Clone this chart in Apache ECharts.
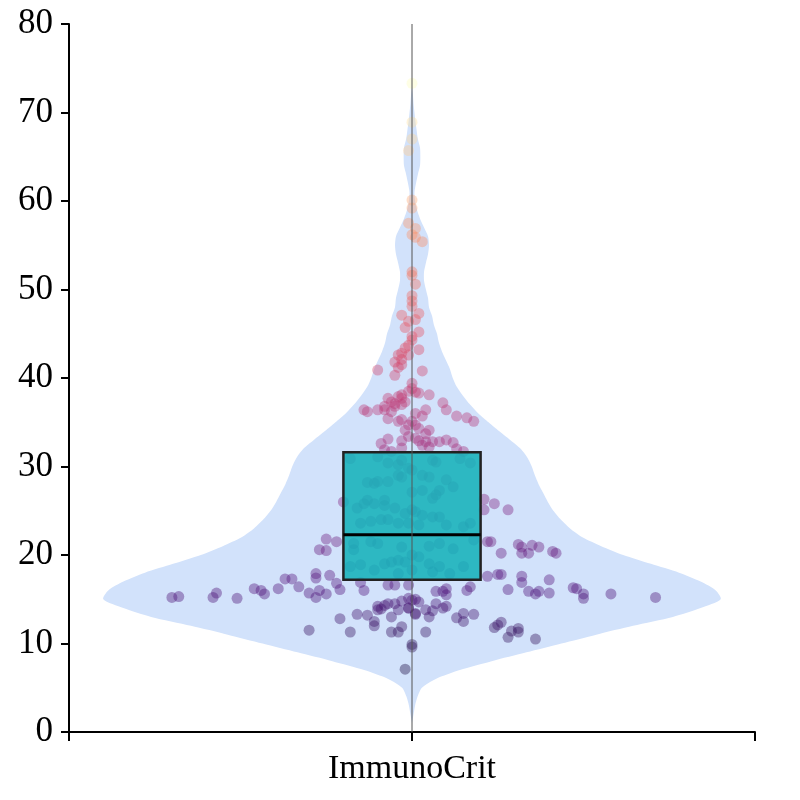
<!DOCTYPE html>
<html>
<head>
    <meta charset="utf-8">
    <script src="https://cdn.jsdelivr.net/npm/echarts@6/dist/echarts.min.js"></script>
    <style>
        html, body { margin: 0; padding: 0; background: #fff; }
        #chart { width: 800px; height: 800px; }
    </style>
</head>
<body>
    <div id="chart"></div>
    <script type="text/javascript">
        // category shown under the axis
        var categoryName = 'ImmunoCrit';

        // y axis ticks
        var yMin = 0, yMax = 80, yStep = 10;

        // box: quartiles
        var boxQ1 = 17.2;
        var boxMedian = 22.3;
        var boxQ3 = 31.6;

        // violin outline: value -> relative density (1 = widest)
        var violinValues = [1, 2, 3, 4, 5, 6, 7, 8, 9, 10, 11, 12, 13, 14, 15, 16, 17, 18, 19, 20,
            21, 22, 23, 24, 25, 26, 27, 28, 29, 30, 31, 32, 33, 34, 35, 36, 37, 38, 39, 40,
            41, 42, 43, 44, 45, 46, 47, 48, 49, 50, 51, 52, 53, 54, 55, 56, 57, 58, 59, 60,
            61, 62, 63, 64, 65, 66, 67, 68, 69, 70, 71, 72, 73];
        var violinDensity = [0, 0.005, 0.01, 0.018, 0.032, 0.077, 0.155, 0.258, 0.371, 0.484,
            0.597, 0.716, 0.845, 0.935, 1.0, 0.984, 0.935, 0.865, 0.774, 0.684,
            0.613, 0.552, 0.512, 0.482, 0.458, 0.44, 0.425, 0.41, 0.398, 0.388,
            0.374, 0.352, 0.318, 0.282, 0.248, 0.215, 0.188, 0.165, 0.145, 0.132,
            0.123, 0.11, 0.097, 0.087, 0.081, 0.071, 0.065, 0.055, 0.052, 0.045,
            0.039, 0.039, 0.045, 0.052, 0.055, 0.052, 0.039, 0.026, 0.016, 0.01,
            0.008, 0.013, 0.019, 0.026, 0.027, 0.026, 0.019, 0.015, 0.011, 0.008,
            0.005, 0.003, 0];

        // jittered points: horizontal jitter (share of half band) and value
        var pointJitter = [0.00, 0.00, 0.00, -0.01, 0.00, 0.00, -0.01, 0.01, 0.00, 0.01,
            0.03, 0.00, 0.00, 0.01, 0.00, 0.00, 0.00, -0.03, 0.02, -0.01,
            0.01, -0.02, 0.02, 0.00, 0.00, -0.01, -0.02, 0.02, -0.03, -0.01,
            -0.04, -0.03, -0.05, -0.03, -0.10, -0.04, 0.03, -0.05, 0.00, 0.00,
            -0.01, 0.01, 0.02, 0.05, -0.03, -0.07, -0.04, -0.03, -0.06, -0.05,
            -0.02, -0.08, -0.05, -0.03, -0.14, -0.13, -0.10, -0.08, -0.06, 0.04,
            0.09, 0.10, 0.13, 0.16, 0.18, 0.03, 0.01, -0.07, -0.04, -0.03,
            0.00, 0.01, -0.01, 0.02, 0.05, 0.04, -0.02, -0.07, -0.09, -0.03,
            -0.01, 0.01, 0.02, 0.04, 0.06, 0.08, 0.10, 0.12, 0.05, -0.03,
            0.03, 0.13, 0.15, -0.08, -0.06, -0.18, -0.10, -0.07, -0.04, -0.03,
            -0.01, 0.00, 0.06, 0.07, 0.14, 0.17, -0.04, -0.03, -0.07, -0.10,
            -0.11, -0.13, 0.03, 0.05, 0.10, 0.12, 0.03, 0.08, 0.00, 0.07,
            0.06, -0.13, -0.14, -0.11, -0.08, -0.08, -0.05, -0.16, 0.00, 0.01,
            -0.02, 0.03, 0.06, 0.08, -0.07, -0.09, -0.12, -0.15, -0.04, -0.01,
            0.02, 0.10, 0.15, 0.17, -0.17, -0.12, -0.10, -0.03, 0.05, 0.08,
            0.12, 0.18, -0.17, 0.00, 0.02, -0.04, -0.06, -0.08, -0.02, 0.05,
            0.08, -0.15, -0.18, 0.15, -0.11, 0.00, 0.06, -0.04, 0.11, 0.21,
            0.24, 0.28, 0.21, -0.20, -0.25, -0.22, -0.27, -0.25, 0.22, 0.23,
            0.31, 0.26, 0.32, 0.35, 0.32, 0.34, 0.37, 0.41, 0.42, 0.22,
            0.25, 0.26, 0.32, 0.32, 0.40, 0.28, 0.34, 0.36, 0.37, 0.40,
            0.47, 0.48, 0.50, 0.50, 0.58, 0.71, 0.07, 0.09, 0.10, 0.10,
            0.17, 0.16, 0.00, 0.02, -0.01, 0.01, 0.04, 0.06, 0.07, 0.05,
            0.09, 0.10, 0.13, 0.15, 0.15, 0.18, 0.04, 0.24, 0.25, 0.26,
            0.29, 0.28, 0.31, 0.31, 0.36, 0.00, 0.00, -0.02, -0.70, -0.68,
            -0.58, -0.57, -0.51, -0.46, -0.44, -0.43, -0.39, -0.37, -0.35, -0.33,
            -0.30, -0.27, -0.28, -0.25, -0.28, -0.28, -0.24, -0.22, -0.21, -0.14,
            -0.15, -0.07, -0.05, -0.01, -0.03, -0.05, -0.07, -0.08, -0.10, -0.10,
            -0.09, -0.04, -0.01, 0.01, -0.13, -0.16, -0.21, -0.11, -0.11, -0.06,
            -0.03, -0.04, -0.06, -0.30, -0.18, 0.01, -0.01];
        var pointValues = [73.3, 68.9, 67.0, 65.7, 60.1, 59.2, 57.5, 56.9, 56.2, 55.9,
            55.4, 52.0, 51.6, 50.6, 49.3, 48.7, 48.1, 47.1, 47.3, 46.4,
            46.6, 45.7, 45.2, 44.7, 44.3, 43.7, 43.4, 43.2, 42.8, 42.6,
            42.6, 42.1, 41.8, 41.5, 40.9, 41.2, 40.8, 40.3, 39.4, 38.8,
            38.5, 38.4, 38.3, 38.1, 38.1, 37.7, 37.9, 37.7, 37.3, 37.1,
            37.3, 36.8, 36.8, 37.0, 36.4, 36.2, 36.4, 36.4, 36.2, 36.4,
            37.2, 36.4, 35.7, 35.5, 35.1, 35.7, 36.0, 35.4, 35.1, 35.3,
            35.1, 34.7, 34.7, 34.3, 34.1, 33.7, 34.1, 33.1, 32.6, 32.9,
            33.4, 33.2, 32.9, 32.8, 32.8, 32.8, 33.0, 32.7, 32.2, 32.1,
            32.4, 32.0, 31.7, 31.9, 31.7, 30.9, 31.1, 30.4, 30.2, 30.7,
            29.8, 29.6, 30.7, 30.5, 30.9, 30.4, 29.0, 28.8, 28.3, 28.3,
            28.1, 28.2, 29.0, 28.8, 28.5, 27.7, 27.3, 27.3, 27.1, 26.8,
            26.4, 26.2, 25.8, 25.8, 26.2, 25.6, 25.3, 25.3, 25.1, 24.9,
            24.7, 24.5, 24.3, 24.3, 24.0, 24.0, 23.8, 23.6, 23.6, 23.6,
            23.4, 23.4, 23.2, 23.6, 21.3, 21.5, 21.3, 20.9, 21.0, 21.3,
            20.7, 21.7, 20.6, 20.0, 19.8, 19.4, 19.2, 19.0, 19.2, 19.0,
            18.7, 18.9, 18.7, 18.7, 18.3, 18.3, 18.1, 17.9, 17.9, 26.3,
            25.8, 25.1, 25.1, 26.0, 21.8, 21.5, 20.6, 20.5, 21.5, 21.5,
            21.2, 20.2, 20.9, 21.1, 20.2, 20.2, 20.9, 20.4, 20.2, 17.6,
            17.8, 17.8, 17.6, 16.9, 17.2, 16.1, 15.9, 15.6, 15.9, 15.7,
            16.3, 16.2, 15.6, 15.1, 15.6, 15.2, 15.9, 15.9, 15.5, 16.2,
            16.4, 16.0, 14.9, 14.7, 14.0, 13.4, 13.8, 13.7, 14.5, 13.0,
            14.0, 14.2, 12.9, 13.4, 12.5, 13.3, 11.3, 11.8, 12.1, 12.4,
            11.4, 10.7, 11.7, 11.3, 10.5, 9.9, 9.6, 7.1, 15.2, 15.3,
            15.2, 15.7, 15.1, 16.2, 16.0, 15.6, 16.2, 17.3, 17.3, 16.4,
            15.7, 16.0, 15.2, 15.6, 17.4, 17.9, 17.7, 16.8, 16.1, 16.0,
            16.9, 16.6, 16.6, 16.6, 14.8, 14.5, 14.5, 14.3, 14.2, 13.8,
            13.9, 13.8, 14.0, 13.3, 13.2, 13.3, 12.8, 12.5, 12.0, 13.0,
            11.9, 11.3, 11.3, 11.5, 11.3, 15.0, 15.1];

        // magma-like colour ramp for the points
        var pointColors = ['#000004', '#1c1044', '#4f127b', '#812581', '#b5367a',
            '#e55064', '#fb8761', '#fec287', '#fcfdbf'];

        var VIOLIN_HALF = 0.9;   // widest half width, in band units
        var BOX_HALF = 0.2;
        var FONT = '"Liberation Serif", "DejaVu Serif", serif';

        var scatterData = [];
        for (var i = 0; i < pointValues.length; i++) {
            scatterData.push([pointJitter[i], pointValues[i]]);
        }

        function renderViolin(params, api) {
            var right = [], left = [];
            for (var k = 0; k < violinValues.length; k++) {
                var w = violinDensity[k] * VIOLIN_HALF;
                right.push(api.coord([w, violinValues[k]]));
                left.push(api.coord([-w, violinValues[k]]));
            }
            var pts = right.concat(left.reverse());
            return {
                type: 'polygon',
                shape: { points: pts, smooth: 0.25 },
                style: { fill: '#d2e2fb' },
                silent: true
            };
        }

        function renderBox(params, api) {
            var x = api.value(0);
            var tl = api.coord([x - BOX_HALF, api.value(3)]);
            var br = api.coord([x + BOX_HALF, api.value(1)]);
            var m1 = api.coord([x - BOX_HALF, api.value(2)]);
            var m2 = api.coord([x + BOX_HALF, api.value(2)]);
            return {
                type: 'group',
                children: [{
                    type: 'rect',
                    shape: { x: tl[0], y: tl[1], width: br[0] - tl[0], height: br[1] - tl[1] },
                    style: { fill: 'rgba(22,178,186,0.88)', stroke: '#222', lineWidth: 2.5 }
                }, {
                    type: 'line',
                    shape: { x1: m1[0], y1: m1[1], x2: m2[0], y2: m2[1] },
                    style: { stroke: '#000', lineWidth: 3 }
                }]
            };
        }

        var chart = echarts.init(document.getElementById('chart'));
        var option = {
            backgroundColor: '#fff',
            animation: false,
            grid: { left: 69, right: 45, top: 24, bottom: 68 },
            xAxis: {
                type: 'value',
                min: -1,
                max: 1,
                interval: 1,
                splitLine: { show: false },
                axisLine: { onZero: false, lineStyle: { color: '#000', width: 2 } },
                axisTick: { show: true, length: 9, lineStyle: { color: '#000', width: 2 } },
                axisLabel: {
                    color: '#000',
                    fontSize: 34,
                    fontFamily: FONT,
                    margin: 20,
                    formatter: function (v) { return v === 0 ? categoryName : ''; }
                }
            },
            yAxis: {
                type: 'value',
                min: yMin,
                max: yMax,
                interval: yStep,
                splitLine: { show: false },
                axisLine: { show: true, onZero: false, lineStyle: { color: '#000', width: 2 } },
                axisTick: { show: true, length: 8, lineStyle: { color: '#000', width: 2 } },
                axisLabel: { color: '#000', fontSize: 35, fontFamily: FONT, margin: 16 }
            },
            visualMap: {
                show: false,
                type: 'continuous',
                seriesIndex: 1,
                dimension: 1,
                min: -3,
                max: 73.3,
                inRange: { color: pointColors }
            },
            series: [{
                type: 'custom',
                renderItem: renderViolin,
                data: [[0, 40]],
                z: 1
            }, {
                type: 'scatter',
                data: scatterData,
                symbolSize: 11,
                itemStyle: { opacity: 0.4 },
                z: 2
            }, {
                type: 'custom',
                renderItem: renderBox,
                data: [[0, boxQ1, boxMedian, boxQ3]],
                z: 3
            }, {
                type: 'line',
                data: [[0, yMin], [0, yMax]],
                symbol: 'none',
                lineStyle: { color: '#555', width: 1 },
                z: 4
            }]
        };
        chart.setOption(option);
    </script>
</body>
</html>
